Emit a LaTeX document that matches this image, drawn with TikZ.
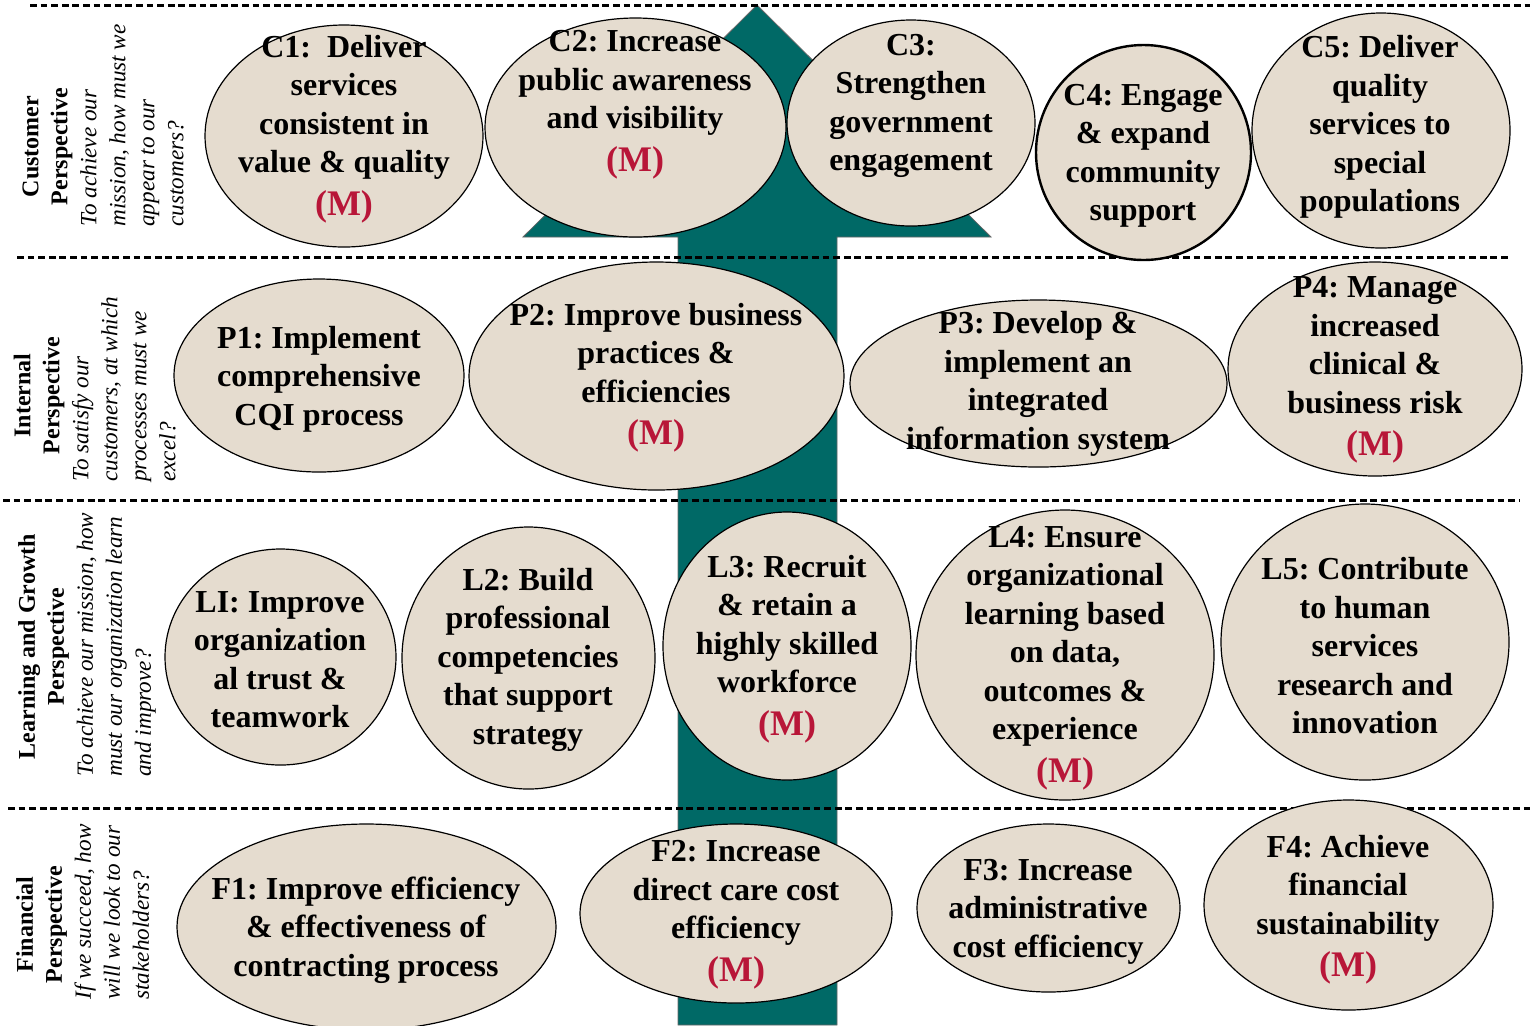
\documentclass[tikz,border=0pt]{standalone}
\usepackage{fontspec}
\setmainfont{Liberation Serif}
\usepackage{array}
\usepackage{tikz}
\usetikzlibrary{shapes.geometric}

\frenchspacing
\definecolor{goalfill}{RGB}{229,220,207}
\definecolor{arrowteal}{RGB}{0,105,102}
\definecolor{mred}{RGB}{184,22,56}
\newcommand{\mtag}{{\fontsize{18}{22}\selectfont\color{mred}(M)}}
\newcommand{\ptitle}[2]{\multicolumn{1}{@{}l@{}}{\makebox[#1][c]{\bfseries\fontsize{12}{14.5}\selectfont #2}}}
\newcolumntype{Q}{>{\itshape\fontsize{11.6}{14.5}\selectfont}l}

\begin{document}
\begin{tikzpicture}[x=0.5pt, y=-0.5pt,
    goal/.style={ellipse, draw=black, line width=0.6pt, fill=goalfill, inner sep=0pt},
    goaltext/.style={align=center, inner sep=0pt, yshift=-1.4pt, font=\fontsize{16}{19.25}\selectfont\bfseries},
    persp/.style={rotate=90, anchor=west, inner sep=0pt, font=\fontsize{12}{14.5}\selectfont},
    divider/.style={line width=1.5pt, dash pattern=on 3.4pt off 1.9pt}]

    \useasboundingbox (0,0) rectangle (1530,1025);

    % strategy arrow
    \filldraw[fill=arrowteal, draw=black!60, line width=0.4pt] (678,1025) -- (678,237) -- (523,237) -- (757,5) -- (991,237) -- (837,237) -- (837,1025) -- cycle;

    \draw[divider] (30,5) -- (1530,5);
    \draw[divider] (17,257) -- (1510,257);
    \draw[divider] (3,500) -- (1520,500);
    \draw[divider] (8,808) -- (1530,808);

    % perspectives
    \node (cust) [persp] at (105,227) {\begin{tabular}{@{}Q@{}}\ptitle{80pt}{Customer}\\\ptitle{80pt}{Perspective}\\To achieve our\\mission, how must we\\appear to our\\customers?\end{tabular}};
    \node (intl) [persp] at (97,482) {\begin{tabular}{@{}Q@{}}\ptitle{86pt}{Internal}\\\ptitle{86pt}{Perspective}\\To satisfy our\\customers, at which\\processes must we\\excel?\end{tabular}};
    \node (lrn) [persp] at (87,777) {\begin{tabular}{@{}Q@{}}\ptitle{130pt}{Learning and Growth}\\\ptitle{130pt}{Perspective}\\To achieve our mission, how\\must our organization learn\\and improve?\end{tabular}};
    \node (fin) [persp] at (85,1000) {\begin{tabular}{@{}Q@{}}\ptitle{75pt}{Financial}\\\ptitle{75pt}{Perspective}\\If we succeed, how\\will we look to our\\stakeholders?\end{tabular}};

    % customer
    \node (c1) [goal, minimum width=139pt, minimum height=111pt] at (344,136) {};
    \node (c1txt) [goaltext] at (344,126) {C1:~ Deliver\\services\\consistent in\\value \& quality\\[2pt]\mtag};
    \node (c2) [goal, minimum width=150.5pt, minimum height=109.5pt] at (635.5,127.5) {};
    \node (c2txt) [goaltext] at (635,102) {C2: Increase\\public awareness\\and visibility\\[2pt]\mtag};
    \node (c3) [goal, minimum width=124pt, minimum height=103pt] at (911,123) {};
    \node (c3txt) [goaltext] at (911,103) {C3:\\Strengthen\\government\\engagement};
    \node (c4) [goal, line width=1.2pt, minimum width=107.5pt, minimum height=107.5pt] at (1143.5,152.5) {};
    \node (c4txt) [goaltext] at (1143,153) {C4: Engage\\\& expand\\community\\support};
    \node (c5) [goal, minimum width=129pt, minimum height=117.5pt] at (1381,130.5) {};
    \node (c5txt) [goaltext] at (1380,124) {C5: Deliver\\quality\\services to\\special\\populations};

    % internal
    \node (p1) [goal, minimum width=145pt, minimum height=96.5pt] at (319,375.5) {};
    \node (p1txt) [goaltext] at (319,376) {P1: Implement\\comprehensive\\CQI process};
    \node (p2) [goal, minimum width=187.5pt, minimum height=114pt] at (656.5,376) {};
    \node (p2txt) [goaltext] at (656,375) {P2: Improve business\\practices \&\\efficiencies\\[2pt]\mtag};
    \node (p3) [goal, minimum width=188.5pt, minimum height=83.5pt] at (1038.5,383.5) {};
    \node (p3txt) [goaltext] at (1038,381) {P3: Develop \&\\implement an\\integrated\\information system};
    \node (p4) [goal, minimum width=147pt, minimum height=107pt] at (1375,369) {};
    \node (p4txt) [goaltext] at (1375,367) {P4: Manage\\increased\\clinical \&\\business risk\\[2pt]\mtag};

    % learning and growth
    \node (l1) [goal, minimum width=115.5pt, minimum height=108pt] at (280.5,657) {};
    \node (l1txt) [goaltext] at (280,657) {LI: Improve\\organization\\al trust \&\\teamwork};
    \node (l2) [goal, minimum width=126.5pt, minimum height=131pt] at (528.5,658) {};
    \node (l2txt) [goaltext] at (528,657) {L2: Build\\professional\\competencies\\that support\\strategy};
    \node (l3) [goal, minimum width=124pt, minimum height=134pt] at (787,646) {};
    \node (l3txt) [goaltext] at (787,646) {L3: Recruit\\\& retain a\\highly skilled\\workforce\\[2pt]\mtag};
    \node (l4) [goal, minimum width=149pt, minimum height=145pt] at (1065,655) {};
    \node (l4txt) [goaltext] at (1065,655) {L4: Ensure\\organizational\\learning based\\on data,\\outcomes \&\\experience\\[2pt]\mtag};
    \node (l5) [goal, minimum width=144pt, minimum height=138pt] at (1365,642) {};
    \node (l5txt) [goaltext] at (1365,643) {L5: Contribute\\to human\\services\\research and\\innovation};

    % financial
    \node (f1) [goal, minimum width=189.5pt, minimum height=103pt] at (366.5,927) {};
    \node (f1txt) [goaltext] at (366,927) {F1: Improve efficiency\\\& effectiveness of\\contracting process};
    \node (f2) [goal, minimum width=156pt, minimum height=89.5pt] at (736,913.5) {};
    \node (f2txt) [goaltext] at (736,912) {F2: Increase\\direct care cost\\efficiency\\[2pt]\mtag};
    \node (f3) [goal, minimum width=131.5pt, minimum height=84pt] at (1048.5,908) {};
    \node (f3txt) [goaltext] at (1048,909) {F3: Increase\\administrative\\cost efficiency};
    \node (f4) [goal, minimum width=144.5pt, minimum height=105pt] at (1348.5,905) {};
    \node (f4txt) [goaltext] at (1348,907) {F4: Achieve\\financial\\sustainability\\[2pt]\mtag};
\end{tikzpicture}
\end{document}
